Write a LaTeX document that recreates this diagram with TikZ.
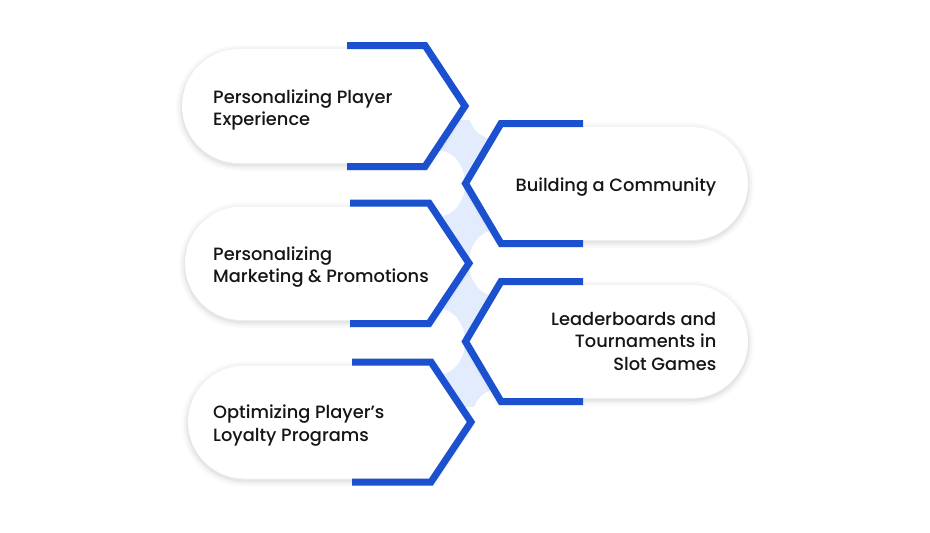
\documentclass[tikz,border=0pt]{standalone}
\usepackage{fontspec}
\setmainfont{Poppins}[UprightFont={* Medium}]
\definecolor{brand}{HTML}{1B50CF}
\definecolor{bandblue}{HTML}{E3ECFD}
\definecolor{ink}{HTML}{151515}
\newcommand\labelfont{\fontsize{17.8}{22.5}\selectfont}
\tikzset{
  chev/.style={draw=brand, line width=7pt, line join=miter, line cap=butt},
  pillfill/.style={fill=white},
  softshadow/.style={draw=black, draw opacity=#1, line join=round},
  lbl/.style={inner sep=0pt, text=ink, font=\labelfont}
}
\def\shapeA{(239,49) -- (426,49) -- (463,106) -- (426,163) -- (239,163) arc[start angle=90,end angle=270,radius=57] -- cycle}
\def\shapeC{(241.75,206.5) -- (430,206.5) -- (467,263.25) -- (430,320) -- (241.75,320) arc[start angle=90,end angle=270,radius=56.75] -- cycle}
\def\shapeE{(244.5,365.5) -- (432,365.5) -- (469,422) -- (432,478.5) -- (244.5,478.5) arc[start angle=90,end angle=270,radius=56.5] -- cycle}
\def\shapeB{(500,127) -- (691.5,127) arc[start angle=270,end angle=450,radius=56.5] -- (500,240) -- (467.5,183.5) -- cycle}
\def\shapeD{(500,285) -- (691.5,285) arc[start angle=270,end angle=450,radius=56.5] -- (500,398) -- (467.5,341.5) -- cycle}
\begin{document}
\begin{tikzpicture}[x=1pt,y=-1pt]
\useasboundingbox (0,0) rectangle (930,533);
\fill[white] (0,0) rectangle (930,533);
% light connecting band
\fill[bandblue] (440,120) rectangle (500,407);
\fill[white] (494,106) ellipse[x radius=27, y radius=33];
\fill[white] (438,183.5) ellipse[x radius=27, y radius=33];
\fill[white] (496,263) ellipse[x radius=27, y radius=33];
\fill[white] (438,341.5) ellipse[x radius=27, y radius=33];
\fill[white] (498,422) ellipse[x radius=27, y radius=33];
% shadows
\foreach \s in {\shapeA,\shapeB,\shapeC,\shapeD,\shapeE}{
  \begin{scope}[shift={(0,2)}]
    \path[softshadow=0.018, line width=12pt] \s;
    \path[softshadow=0.022, line width=8pt] \s;
    \path[softshadow=0.028, line width=4.5pt] \s;
    \path[softshadow=0.03, line width=2pt] \s;
  \end{scope}
}
% white pills
\path[pillfill] \shapeA;
\path[pillfill] \shapeB;
\path[pillfill] \shapeC;
\path[pillfill] \shapeD;
\path[pillfill] \shapeE;
% blue chevrons
\draw[chev] (347,45.5) -- (425,45.5) -- (465,106) -- (425,166.5) -- (347,166.5);
\draw[chev] (583,123.5) -- (501,123.5) -- (465.5,183.5) -- (501,243.5) -- (583,243.5);
\draw[chev] (350,203) -- (429,203) -- (469,263.25) -- (429,323.5) -- (350,323.5);
\draw[chev] (583,281.5) -- (501,281.5) -- (465.5,341.5) -- (501,401.5) -- (583,401.5);
\draw[chev] (352,362) -- (431,362) -- (471,422) -- (431,482) -- (352,482);
% labels
\node[lbl, anchor=base west] (t1) at (213,103.1) {\begin{tabular}[t]{@{}l@{}}Personalizing Player\\Experience\end{tabular}};
\node[lbl, anchor=base east] (t2) at (716.5,191) {Building a Community};
\node[lbl, anchor=base west] (t3) at (213,260.25) {\begin{tabular}[t]{@{}l@{}}Personalizing\\Marketing \& Promotions\end{tabular}};
\node[lbl, anchor=base east] (t4) at (716.5,325.35) {\begin{tabular}[t]{@{}r@{}}Leaderboards and\\Tournaments in\\Slot Games\end{tabular}};
\node[lbl, anchor=base west] (t5) at (213,418.75) {\begin{tabular}[t]{@{}l@{}}Optimizing Player’s\\Loyalty Programs\end{tabular}};
\end{tikzpicture}
\end{document}
